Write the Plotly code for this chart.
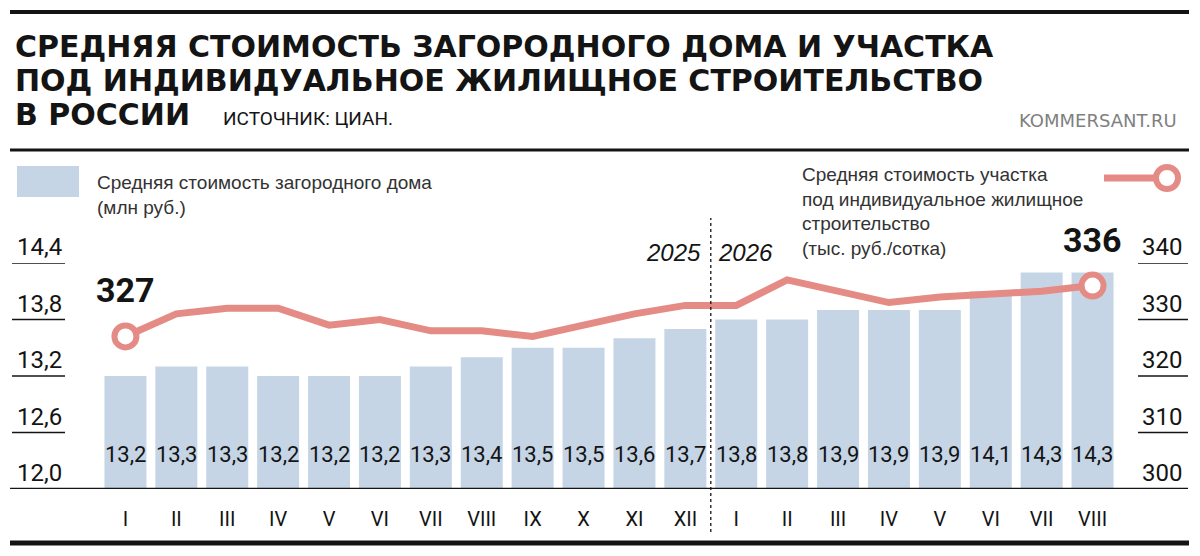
import plotly.graph_objects as go

# --- data ---
months_2025 = ["I", "II", "III", "IV", "V", "VI", "VII", "VIII", "IX", "X", "XI", "XII"]
months_2026 = ["I", "II", "III", "IV", "V", "VI", "VII", "VIII"]
years = ["2025", "2026"]

# средняя стоимость загородного дома, млн руб.
house_price = [13.2, 13.3, 13.3, 13.2, 13.2, 13.2, 13.3, 13.4, 13.5, 13.5, 13.6, 13.7,
               13.8, 13.8, 13.9, 13.9, 13.9, 14.1, 14.3, 14.3]
# средняя стоимость участка ИЖС, тыс. руб./сотка
plot_price = [327, 331, 332, 332, 329, 330, 328, 328, 327, 329, 331, 332.5,
              332.5, 337, 335, 333, 334, 334.5, 335, 336]

left_ticks = [12.0, 12.6, 13.2, 13.8, 14.4]
right_ticks = [300, 310, 320, 330, 340]

months = months_2025 + months_2026
idx = list(range(len(months)))

BAR = "#c5d5e6"
LINE = "#e58b85"
INK = "#141414"
NARROW = "Roboto, Liberation Sans, sans-serif"
SANS = "Liberation Sans, Arial, sans-serif"

# страница рисуется со сдвигом 8px (отступ body), поэтому фигура чуть меньше окна
OFF = 8
W, H = 1200 - 2 * OFF, 556 - 2 * OFF
ML, MT = 100 - OFF, 263 - OFF
MR, MB = W - (1118 - OFF), H - (489 - OFF)
PW, PH = W - ML - MR, H - MT - MB


def fx(px):
    # пиксель окна -> координата paper
    return (px - OFF - ML) / PW


def fy(py):
    return (MT + PH - (py - OFF)) / PH


fig = go.Figure()

y_min = left_ticks[0]
fig.add_trace(go.Bar(
    x=idx, y=[v - y_min for v in house_price], base=y_min,
    marker=dict(color=BAR, line=dict(width=0)),
    hoverinfo="skip", showlegend=False,
))

fig.add_trace(go.Scatter(
    x=idx, y=plot_price, yaxis="y2", mode="lines",
    line=dict(color=LINE, width=7), hoverinfo="skip", showlegend=False,
    cliponaxis=False,
))
fig.add_trace(go.Scatter(
    x=[idx[0], idx[-1]], y=[plot_price[0], plot_price[-1]], yaxis="y2",
    mode="markers",
    marker=dict(size=22, color="white", line=dict(color=LINE, width=6)),
    hoverinfo="skip", showlegend=False, cliponaxis=False,
))

ann = []
shapes = []

# значения в столбцах
for i, v in zip(idx, house_price):
    ann.append(dict(x=i, y=y_min, xref="x", yref="y", yanchor="bottom", yshift=20,
                    text=f"{v:.1f}".replace(".", ","), showarrow=False,
                    font=dict(family=NARROW, size=22, color=INK)))

# крайние значения линии
for i, v in [(idx[0], plot_price[0]), (idx[-1], plot_price[-1])]:
    ann.append(dict(x=i, y=v, xref="x", yref="y2", yanchor="bottom", yshift=24,
                    text=f"{v:.0f}", showarrow=False,
                    font=dict(family=NARROW, size=34, color=INK, weight="bold")))

# шкалы
for v in left_ticks:
    ann.append(dict(x=fx(15), y=v, xref="paper", yref="y", xanchor="left", yanchor="bottom",
                    text=f"{v:.1f}".replace(".", ","), showarrow=False,
                    font=dict(family=NARROW, size=24, color=INK)))
    if v != y_min:
        shapes.append(dict(type="line", xref="paper", yref="y", x0=fx(12), x1=fx(65), y0=v, y1=v,
                           line=dict(color=INK, width=1.5)))
for v in right_ticks:
    ann.append(dict(x=fx(1140), y=v, xref="paper", yref="y2", xanchor="left", yanchor="bottom",
                    text=str(v), showarrow=False,
                    font=dict(family=NARROW, size=24, color=INK)))
    if v != right_ticks[0]:
        shapes.append(dict(type="line", xref="paper", yref="y2", x0=fx(1138), x1=fx(1188), y0=v, y1=v,
                           line=dict(color=INK, width=1.5)))

# базовая линия
shapes.append(dict(type="line", xref="paper", yref="y", x0=fx(10), x1=fx(1188), y0=y_min, y1=y_min,
                   line=dict(color=INK, width=2.5)))

# граница годов
split = len(months_2025) - 0.5
shapes.append(dict(type="line", xref="x", yref="paper", x0=split, x1=split, y0=fy(532), y1=fy(218),
                   line=dict(color=INK, width=1.3, dash="3px,3px")))
ann.append(dict(x=split, y=fy(237), xref="x", yref="paper", xanchor="right", xshift=-8,
                text=years[0], showarrow=False,
                font=dict(family=SANS, size=24, color=INK, style="italic")))
ann.append(dict(x=split, y=fy(237), xref="x", yref="paper", xanchor="left", xshift=5,
                text=years[1], showarrow=False,
                font=dict(family=SANS, size=24, color=INK, style="italic")))

# заголовок
title_lines = ["СРЕДНЯЯ СТОИМОСТЬ ЗАГОРОДНОГО ДОМА И УЧАСТКА",
               "ПОД ИНДИВИДУАЛЬНОЕ ЖИЛИЩНОЕ СТРОИТЕЛЬСТВО",
               "В РОССИИ"]
for line, py in zip(title_lines, [46, 80, 114]):
    ann.append(dict(x=fx(13), y=fy(py), xref="paper", yref="paper", xanchor="left", yanchor="middle",
                    text=line, showarrow=False,
                    font=dict(family="DejaVu Sans", size=30, color=INK, weight="bold")))
ann.append(dict(x=fx(221), y=fy(118), xref="paper", yref="paper", xanchor="left", yanchor="middle",
                text="ИСТОЧНИК: ЦИАН.", showarrow=False,
                font=dict(family=NARROW, size=19, color=INK)))
ann.append(dict(x=fx(1179), y=fy(120), xref="paper", yref="paper", xanchor="right", yanchor="middle",
                text="KOMMERSANT.RU", showarrow=False,
                font=dict(family="DejaVu Sans", size=18, color="#808080")))

# легенда
shapes.append(dict(type="rect", xref="paper", yref="paper", x0=fx(17), x1=fx(79), y0=fy(197), y1=fy(166),
                   fillcolor=BAR, line=dict(width=0)))
ann.append(dict(x=fx(95), y=fy(170), xref="paper", yref="paper", xanchor="left", yanchor="top",
                align="left", text="Средняя стоимость загородного дома<br>(млн руб.)", showarrow=False,
                font=dict(family=SANS, size=19, color="#333333")))
ann.append(dict(x=fx(800), y=fy(162), xref="paper", yref="paper", xanchor="left", yanchor="top",
                align="left",
                text="Средняя стоимость участка<br>под индивидуальное жилищное<br>строительство<br>(тыс. руб./сотка)",
                showarrow=False, font=dict(family=SANS, size=19, color="#333333")))
shapes.append(dict(type="line", xref="paper", yref="paper", x0=fx(1104), x1=fx(1156), y0=fy(178), y1=fy(178),
                   line=dict(color=LINE, width=7)))
shapes.append(dict(type="circle", xref="paper", yref="paper", x0=fx(1156), x1=fx(1178), y0=fy(189), y1=fy(167),
                   fillcolor="white", line=dict(color=LINE, width=6)))

# линейки
for py, w in [(12, 4), (150, 3), (543, 5)]:
    shapes.append(dict(type="line", xref="paper", yref="paper", x0=fx(10), x1=fx(1189), y0=fy(py), y1=fy(py),
                       line=dict(color=INK, width=w)))

fig.update_layout(
    width=W, height=H,
    margin=dict(l=ML, r=MR, t=MT, b=MB),
    paper_bgcolor="white", plot_bgcolor="white",
    bargap=0.175,
    xaxis=dict(range=[-0.5, len(months) - 0.5], tickvals=idx, ticktext=months,
               ticks="outside", ticklen=12, tickcolor="rgba(0,0,0,0)",
               tickfont=dict(family=NARROW, size=20, color=INK),
               showgrid=False, zeroline=False, showline=False, fixedrange=True),
    yaxis=dict(range=[left_ticks[0], left_ticks[-1]], showticklabels=False, showgrid=False,
               zeroline=False, showline=False, fixedrange=True),
    yaxis2=dict(range=[right_ticks[0], right_ticks[-1]], overlaying="y", side="right",
                showticklabels=False, showgrid=False, zeroline=False, showline=False, fixedrange=True),
    annotations=ann, shapes=shapes,
    showlegend=False,
)

fig.write_html("out.html")
